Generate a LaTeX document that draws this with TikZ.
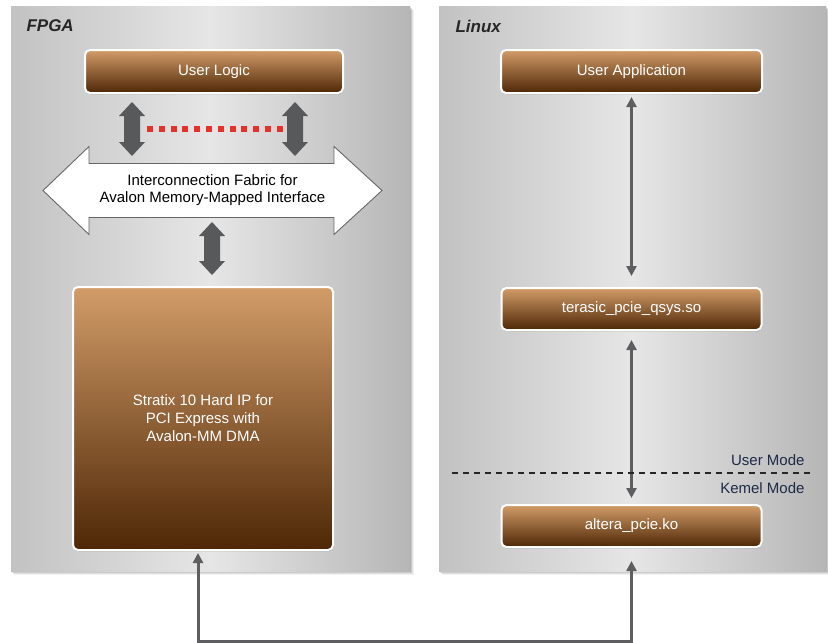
\documentclass[tikz,border=0pt]{standalone}
\usepackage{fontspec}
\setmainfont{Liberation Sans}
\usetikzlibrary{arrows.meta,calc,shadows}
\definecolor{pLeft}{HTML}{C2C2C2}
\definecolor{pMid}{HTML}{E6E6E6}
\definecolor{pRight}{HTML}{B6B6B6}
\definecolor{bTop}{HTML}{D29C68}
\definecolor{bBot}{HTML}{4E2706}
\definecolor{fatgray}{HTML}{58595B}
\definecolor{arrgray}{HTML}{5E5E60}
\definecolor{modeblue}{HTML}{1E2A48}
\definecolor{dotred}{HTML}{E8302A}
\newcommand\fatarr[2]{%
  \fill[fatgray] let \p1=#1, \p2=#2 in
    (\x1,\y1) -- ++(13pt,-14pt) -- ++(-5pt,0pt) -- (\x2+8pt,\y2+14pt) -- ++(5pt,0pt)
    -- (\x2,\y2) -- ++(-13pt,14pt) -- ++(5pt,0pt) -- (\x1-8pt,\y1-14pt) -- ++(-5pt,0pt) -- cycle;}
\begin{document}
\begin{tikzpicture}[x=1pt,y=-1pt,
  panelbg/.style={left color=pLeft, right color=pRight, middle color=pMid},
  brownbox/.style={rounded corners=5pt, draw=white, line width=2pt,
    top color=bTop, bottom color=bBot, text=white,
    font=\fontsize{15}{18}\selectfont, align=center, inner sep=0pt,
    drop shadow={opacity=0.3, shadow xshift=0.8pt, shadow yshift=-1.5pt}},
  thinarr/.style={draw=arrgray, line width=3pt,
    {Triangle[length=10pt,width=10pt]}-{Triangle[length=10pt,width=10pt]}},
  title/.style={anchor=west, text=black!85, font=\bfseries\itshape\fontsize{17}{20}\selectfont},
  modelabel/.style={anchor=east, text=modeblue, font=\fontsize{15}{18}\selectfont}
  ]
\useasboundingbox (0,0) rectangle (828,643);
\fill[white] (0,0) rectangle (828,643);
% panel shadows
\foreach \d/\o in {4/0.05,3/0.07,2/0.09,1/0.12}{
  \fill[black,opacity=\o] (11+\d-1,6+\d) rectangle (410+\d,571+\d);
  \fill[black,opacity=\o] (439+\d-1,6+\d) rectangle (826+\d,571+\d);
}
\shade[panelbg] (11,6) rectangle (410,571);
\shade[panelbg] (439,6) rectangle (826,571);
\node[title] (fpga) at (23,26) {FPGA};
\node[title] (linux) at (452,26) {Linux};

% boxes
\node[brownbox, minimum width=258, minimum height=43] (ul) at (214,71.5) {User Logic};
\node[brownbox, minimum width=260, minimum height=263] (st) at (203,418.5) {Stratix 10 Hard IP for\\PCI Express with\\Avalon-MM DMA};
\node[brownbox, minimum width=261, minimum height=43] (ua) at (631.5,71.5) {User Application};
\node[brownbox, minimum width=260, minimum height=42] (ts) at (631.5,309) {terasic\_pcie\_qsys.so};
\node[brownbox, minimum width=260, minimum height=42] (al) at (631.5,526) {altera\_pcie.ko};

% fabric arrow
\coordinate (fc) at (212.5,190.5);
\filldraw[fill=white, draw=black!60, line width=0.9pt]
  ($(fc)+(-169.5,0)$) -- ($(fc)+(-123.5,-44)$) -- ($(fc)+(-123.5,-27)$)
  -- ($(fc)+(121.5,-27)$) -- ($(fc)+(121.5,-44)$) -- ($(fc)+(169.5,0)$)
  -- ($(fc)+(121.5,44)$) -- ($(fc)+(121.5,27)$) -- ($(fc)+(-123.5,27)$)
  -- ($(fc)+(-123.5,44)$) -- cycle;
\node[font=\fontsize{15}{17}\selectfont, align=center, inner sep=0pt] (fab) at (fc)
  {Interconnection Fabric for\\Avalon Memory-Mapped Interface};

% fat arrows
\coordinate (f1t) at ($(ul.south)+(-82,8)$);
\coordinate (f1b) at ($(fc)+(-80.5,-34.5)$);
\coordinate (f2t) at ($(ul.south)+(81,8)$);
\coordinate (f2b) at ($(fc)+(82.5,-34.5)$);
\coordinate (f3t) at ($(fc)+(-0.5,31.5)$);
\coordinate (f3b) at ($(f3t |- st.north)+(0,-11)$);
\fatarr{(f1t)}{(f1b)}
\fatarr{(f2t)}{(f2b)}
\fatarr{(f3t)}{(f3b)}
\draw[dotred, line width=6pt, dash pattern=on 6pt off 5.8pt] ($(f1t)!0.5!(f1b)+(15,0)$) -- ($(f2t)!0.5!(f2b)+(-12,0)$);

% thin arrows
\draw[thinarr] ($(ua.south)+(0,3)$) -- ($(ts.north)+(0,-11)$);
\draw[thinarr] ($(ts.south)+(0,9)$) -- ($(al.north)+(0,-6)$);
\coordinate (sttip) at ($(st.south)+(-5,2)$);
\coordinate (altip) at ($(al.south)+(0,13)$);
\coordinate (busy) at (0,641);
\draw[thinarr] (sttip) |- (busy -| altip) -- (altip);

% mode separator
\draw[black!85, line width=1.8pt, dash pattern=on 6pt off 5pt] (452,473) -- (814,473);
\node[modelabel] (um) at (808,460) {User Mode};
\node[modelabel] (km) at (808,488) {Kemel Mode};
\end{tikzpicture}
\end{document}
